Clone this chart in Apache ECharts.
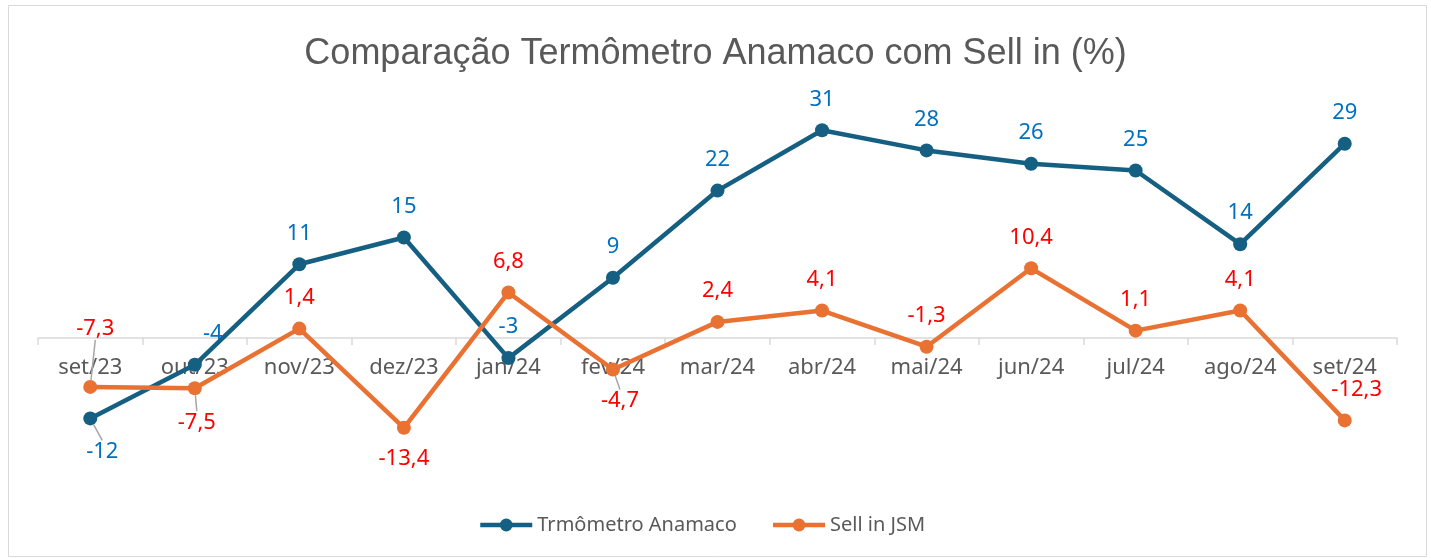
<!DOCTYPE html>
<html>
<head>
<meta charset="utf-8">
<script src="https://cdn.jsdelivr.net/npm/echarts@6/dist/echarts.min.js"></script>
<style>
html,body{margin:0;padding:0;background:#fff;}
#chart{width:1431px;height:558px;}
</style>
</head>
<body>
<div id="chart"></div>
<script>
const categories = ['set/23','out/23','nov/23','dez/23','jan/24','fev/24','mar/24','abr/24','mai/24','jun/24','jul/24','ago/24','set/24'];
const termometro = [-12, -4, 11, 15, -3, 9, 22, 31, 28, 26, 25, 14, 29];
const sellIn = [-7.3, -7.5, 1.4, -13.4, 6.8, -4.7, 2.4, 4.1, -1.3, 10.4, 1.1, 4.1, -12.3];
const seriesNames = ['Trmômetro Anamaco', 'Sell in JSM'];
const titleText = 'Comparação Termômetro Anamaco com Sell in (%)';

// label placement tweaks (styles, kept out of data arrays)
const labelPos = [
  {0:'bottom'},
  {1:'bottom', 3:'bottom', 5:'bottom'}
];
const labelShift = [
  {0:[12,2], 1:[18,0]},
  {0:[5,-27], 1:[2,3], 5:[7,0], 12:[12,0]}
];
const leader = [
  {0:true},
  {0:true, 1:true, 5:true}
];

const fmt = p => String(p.value).replace('.', ',');

function buildData(vals, si){
  return vals.map((v,i)=>{
    const item = {value: v};
    const pos = labelPos[si][i];
    if (pos) item.label = {position: pos};
    item.labelLine = {show: !!leader[si][i]};
    return item;
  });
}

const chart = echarts.init(document.getElementById('chart'), null, {renderer:'canvas'});
const labelFont = '"Noto Sans", sans-serif';

function makeSeries(name, vals, si, color, labelColor){
  return {
    name: name,
    type: 'line',
    data: buildData(vals, si),
    symbol: 'circle',
    symbolSize: 14,
    lineStyle: {color: color, width: 4.5},
    itemStyle: {color: color},
    label: {
      show: true, position: 'top', distance: 13,
      color: labelColor, fontSize: 22, fontFamily: labelFont,
      formatter: fmt
    },
    labelLine: {show: false, lineStyle: {color: '#a6a6a6', width: 1.5}},
    labelLayout: function(p){
      const s = labelShift[si][p.dataIndex];
      return s ? {dx: s[0], dy: s[1]} : {};
    },
    emphasis: {disabled: true},
    animation: false
  };
}

chart.setOption({
  backgroundColor: '#ffffff',
  animation: false,
  title: {
    text: titleText, left: 'center', top: 31,
    textStyle: {fontFamily: '"Liberation Sans", Arial, sans-serif', fontSize: 36, fontWeight: 'normal', color: '#595959'}
  },
  graphic: [{
    type: 'rect', shape: {x: 8.5, y: 5.5, width: 1418, height: 551},
    style: {fill: 'none', stroke: '#d9d9d9', lineWidth: 1}, silent: true, z: -1
  }],
  legend: {
    left: 473, top: 510,
    itemWidth: 52, itemHeight: 16, itemGap: 34,
    lineStyle: {width: 4.5},
    textStyle: {fontFamily: labelFont, fontSize: 20, color: '#595959'},
    data: seriesNames
  },
  grid: {left: 38, right: 34, top: 70, height: 402, containLabel: false},
  xAxis: {
    type: 'category', data: categories, boundaryGap: true,
    axisLine: {onZero: true, lineStyle: {color: '#d9d9d9', width: 1.5}},
    axisTick: {show: true, length: 7, lineStyle: {color: '#d9d9d9', width: 1.5}},
    axisLabel: {color: '#595959', fontSize: 22, fontFamily: labelFont, margin: -115}
  },
  yAxis: {
    type: 'value', min: -20, max: 40, interval: 10,
    show: true,
    axisLine: {show: false}, axisTick: {show: false}, axisLabel: {show: false},
    splitLine: {show: false}
  },
  series: [
    makeSeries(seriesNames[0], termometro, 0, '#156082', '#0070C0'),
    makeSeries(seriesNames[1], sellIn, 1, '#E97132', '#FF0000')
  ]
});
</script>
</body>
</html>
